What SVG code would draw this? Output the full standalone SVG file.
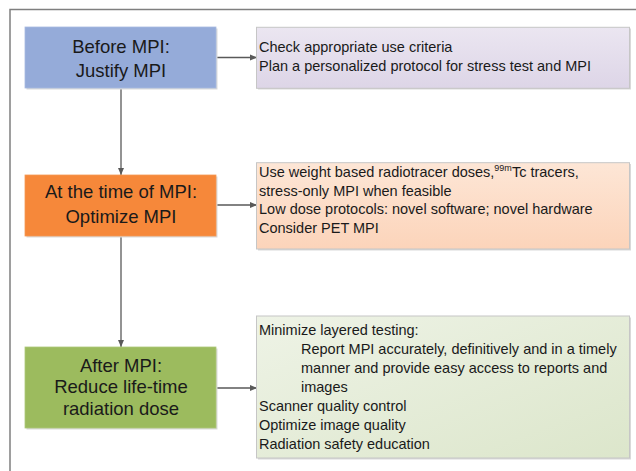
<svg xmlns="http://www.w3.org/2000/svg" width="636" height="471" viewBox="0 0 636 471">
  <style>
    .lt { font-family: "Liberation Sans", Arial, sans-serif; font-size: 18.5px; fill: #1a1a1a; text-anchor: middle; }
    .rt { font-family: "Liberation Sans", Arial, sans-serif; font-size: 14.5px; fill: #1a1a1a; }
    .sup { font-size: 9px; }
    .conn { stroke: #595959; stroke-width: 1.3; fill: none; marker-end: url(#arr); }
    .shadow { fill: #d9d9d9; }
    .rbox { stroke: #c6c6c6; stroke-width: 1; }
  </style>
  <defs>
    <marker id="arr" markerWidth="8" markerHeight="8" refX="7" refY="4" orient="auto" markerUnits="userSpaceOnUse">
      <path d="M0,1 L7,4 L0,7 Z" fill="#595959"/>
    </marker>
    <linearGradient id="gLav" x1="0" y1="0" x2="0" y2="1">
      <stop offset="0" stop-color="#ebe6f1"/>
      <stop offset="1" stop-color="#ddd5e7"/>
    </linearGradient>
    <linearGradient id="gPeach" x1="0" y1="0" x2="0" y2="1">
      <stop offset="0" stop-color="#fde6d6"/>
      <stop offset="1" stop-color="#fcd4ba"/>
    </linearGradient>
    <linearGradient id="gGreen" x1="0" y1="0" x2="1" y2="1">
      <stop offset="0" stop-color="#eef3e6"/>
      <stop offset="1" stop-color="#dce6cb"/>
    </linearGradient>
  </defs>

  <!-- frame -->
  <path d="M10,471 V9.5 H636" fill="none" stroke="#7f7f7f" stroke-width="1.5"/>

  <!-- connectors -->
  <g id="connectors">
    <line class="conn" x1="121" y1="88" x2="121" y2="175"/>
    <line class="conn" x1="121" y1="236" x2="121" y2="347"/>
    <line class="conn" x1="216" y1="57.5" x2="257" y2="57.5"/>
    <line class="conn" x1="216" y1="205" x2="257" y2="205"/>
    <line class="conn" x1="216" y1="388" x2="257" y2="388"/>
  </g>

  <!-- left nodes -->
  <g id="before">
    <rect class="shadow" x="26.5" y="28.5" width="191" height="61"/>
    <rect x="25" y="27" width="191" height="61" fill="#95abd9" stroke="#a9bbe0" stroke-width="0.8"/>
    <text class="lt" x="121" y="52.7">Before MPI:</text>
    <text class="lt" x="121" y="76.7">Justify MPI</text>
  </g>

  <g id="during">
    <rect class="shadow" x="26.5" y="176.5" width="191" height="61"/>
    <rect x="25" y="175" width="191" height="61" fill="#f6883a" stroke="#f59a55" stroke-width="0.8"/>
    <text class="lt" x="121" y="198.3">At the time of MPI:</text>
    <text class="lt" x="121" y="223.3">Optimize MPI</text>
  </g>

  <g id="after">
    <rect class="shadow" x="26.5" y="348.5" width="191" height="81"/>
    <rect x="25" y="347" width="191" height="81" fill="#9cbb5e" stroke="#aec87a" stroke-width="0.8"/>
    <text class="lt" x="121" y="371.7">After MPI:</text>
    <text class="lt" x="121" y="393.3">Reduce life-time</text>
    <text class="lt" x="121" y="415">radiation dose</text>
  </g>

  <!-- right nodes -->
  <g id="justify-detail">
    <rect class="shadow" x="258" y="28.5" width="373" height="61"/>
    <rect class="rbox" x="256.5" y="27.3" width="373" height="61" fill="url(#gLav)"/>
    <text class="rt" x="259" y="52">Check appropriate use criteria</text>
    <text class="rt" x="259" y="71">Plan a personalized protocol for stress test and MPI</text>
  </g>

  <g id="optimize-detail">
    <rect class="shadow" x="258" y="164" width="373" height="86.5"/>
    <rect class="rbox" x="256.5" y="162.7" width="373" height="86.3" fill="url(#gPeach)"/>
    <text class="rt" x="259" y="176.7">Use weight based radiotracer doses,<tspan class="sup" dy="-6">99m</tspan><tspan dy="6">Tc tracers,</tspan></text>
    <text class="rt" x="259" y="195.7">stress-only MPI when feasible</text>
    <text class="rt" x="259" y="214.3">Low dose protocols: novel software; novel hardware</text>
    <text class="rt" x="259" y="233.3">Consider PET MPI</text>
  </g>

  <g id="reduce-detail">
    <rect class="shadow" x="258" y="317.5" width="373" height="142"/>
    <rect class="rbox" x="256.5" y="316" width="373" height="142" fill="url(#gGreen)"/>
    <text class="rt" x="259" y="335">Minimize layered testing:</text>
    <text class="rt" x="301" y="354">Report MPI accurately, definitively and in a timely</text>
    <text class="rt" x="301" y="373">manner and provide easy access to reports and</text>
    <text class="rt" x="301" y="392">images</text>
    <text class="rt" x="259" y="411">Scanner quality control</text>
    <text class="rt" x="259" y="430">Optimize image quality</text>
    <text class="rt" x="259" y="449">Radiation safety education</text>
  </g>
</svg>
